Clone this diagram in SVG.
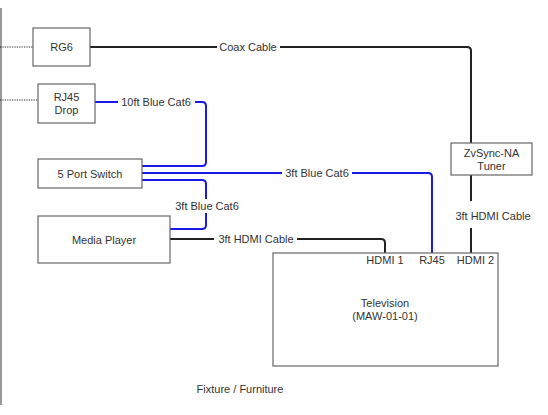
<svg xmlns="http://www.w3.org/2000/svg" width="548" height="415" viewBox="0 0 548 415">
<style>
.box{fill:#fff;stroke:#666;stroke-width:1.2}
.t{font-family:"Liberation Sans",Arial,sans-serif;font-size:11px;fill:#333;text-anchor:middle;dominant-baseline:central}
.blk{fill:none;stroke:#222;stroke-width:2}
.blu{fill:none;stroke:#1a1ae6;stroke-width:2}
.dot{fill:none;stroke:#222;stroke-width:1.2;stroke-dasharray:1.2 1.2}
.lb{fill:#fff;stroke:none}
</style>
<rect width="548" height="415" fill="#fff"/>
<line x1="1" y1="8" x2="1" y2="405" stroke="#555" stroke-width="1.2"/>
<g id="connectors">
<line class="dot" x1="0" y1="47" x2="33" y2="47"/>
<line class="dot" x1="0" y1="100" x2="38" y2="100"/>
<path class="blk" d="M90,47 H467 Q471,47 471,51 V143"/>
<rect class="lb" x="217" y="40" width="63" height="14"/>
<text class="t" x="248" y="47">Coax Cable</text>
<path class="blu" d="M95,102 H202 Q206,102 206,106 V162 Q206,166 202,166 H142"/>
<rect class="lb" x="118" y="95" width="77" height="14"/>
<text class="t" x="156" y="102">10ft Blue Cat6</text>
<path class="blu" d="M142,173 H428 Q432,173 432,177 V253"/>
<rect class="lb" x="282" y="166" width="70" height="14"/>
<text class="t" x="317" y="173">3ft Blue Cat6</text>
<path class="blu" d="M142,180 H202 Q206,180 206,184 V225 Q206,229 202,229 H170"/>
<rect class="lb" x="172" y="199" width="70" height="14"/>
<text class="t" x="207" y="206">3ft Blue Cat6</text>
<path class="blk" d="M170,239 H381 Q385,239 385,243 V253"/>
<rect class="lb" x="214" y="232" width="83" height="14"/>
<text class="t" x="256" y="239">3ft HDMI Cable</text>
<path class="blk" d="M471,175 V253"/>
<rect class="lb" x="453" y="201" width="80" height="27"/>
<text class="t" x="493" y="216">3ft HDMI Cable</text>
</g>
<g id="rg6">
<rect class="box" x="33" y="28" width="57" height="38"/>
<text class="t" x="61.5" y="47">RG6</text>
</g>
<g id="rj45drop">
<rect class="box" x="38" y="84" width="57" height="39"/>
<text class="t" x="66.5" y="97">RJ45</text>
<text class="t" x="66.5" y="110">Drop</text>
</g>
<g id="switch">
<rect class="box" x="38" y="159" width="104" height="29"/>
<text class="t" x="90" y="174">5 Port Switch</text>
</g>
<g id="mediaplayer">
<rect class="box" x="38" y="216" width="132" height="47"/>
<text class="t" x="104" y="240">Media Player</text>
</g>
<g id="tuner">
<rect class="box" x="451" y="143" width="81" height="32" stroke="#444"/>
<text class="t" x="491.5" y="153">ZvSync-NA</text>
<text class="t" x="491.5" y="166">Tuner</text>
</g>
<g id="television">
<rect class="box" x="273" y="253" width="225" height="113"/>
<text class="t" x="385" y="303">Television</text>
<text class="t" x="385" y="316">(MAW-01-01)</text>
<text class="t" x="385" y="260">HDMI 1</text>
<text class="t" x="432" y="260">RJ45</text>
<text class="t" x="475.5" y="260">HDMI 2</text>
</g>
<g id="fixture">
<text class="t" x="240" y="389">Fixture / Furniture</text>
</g>
</svg>
